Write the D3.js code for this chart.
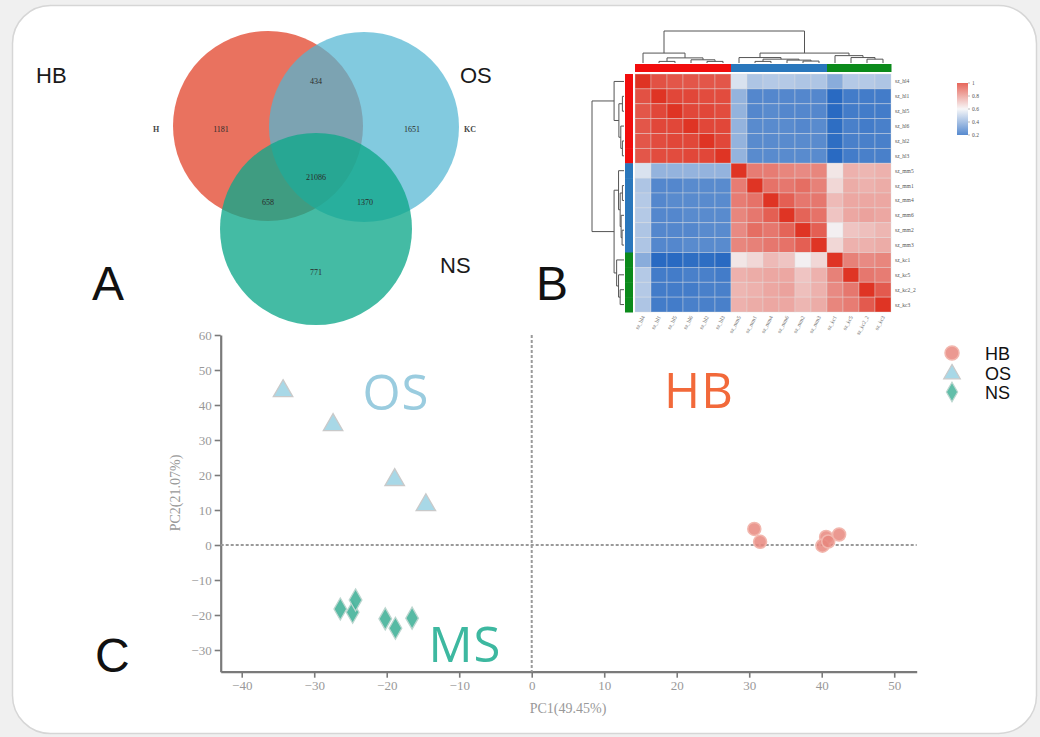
<!DOCTYPE html>
<html><head><meta charset="utf-8">
<script src="https://cdn.jsdelivr.net/npm/d3@7"></script>
<style>body{margin:0;background:#f0f0f0;} svg{display:block}</style>
</head><body><svg id="c" width="1040" height="737"></svg>
<script>
// ---------------- DATA ----------------
const vennSets = ["HB", "OS", "NS"];
const vennSideLabels = ["H", "KC"];
// regions: HB only, OS only, NS only, HB∩OS, HB∩NS, OS∩NS, all
const vennRegionValues = ["1181", "1651", "771", "434", "658", "1370", "21086"];

const heatLabels = ["sz_hl4","sz_hl1","sz_hl5","sz_hl6","sz_hl2","sz_hl3",
  "sz_mm5","sz_mm1","sz_mm4","sz_mm6","sz_mm2","sz_mm3",
  "sz_kc1","sz_kc5","sz_kc2_2","sz_kc3"];
const heatGroups = ["HB","HB","HB","HB","HB","HB","MM","MM","MM","MM","MM","MM","KC","KC","KC","KC"];
const corrMatrix = [
 [1.00,.94,.93,.93,.93,.93, .55,.47,.48,.48,.47,.47, .40,.48,.48,.47],
 [.94,1.00,.96,.96,.95,.95, .42,.30,.30,.30,.30,.30, .22,.27,.27,.27],
 [.93,.96,1.00,.96,.96,.95, .42,.30,.31,.30,.30,.30, .22,.27,.27,.27],
 [.93,.96,.96,1.00,.96,.96, .42,.31,.31,.31,.30,.31, .23,.28,.27,.28],
 [.93,.95,.96,.96,1.00,.96, .42,.31,.31,.31,.31,.31, .23,.28,.28,.28],
 [.93,.95,.95,.96,.96,1.00, .42,.31,.31,.31,.31,.31, .22,.27,.28,.28],
 [.55,.42,.42,.42,.42,.42, 1.00,.85,.85,.83,.82,.83, .63,.74,.73,.74],
 [.47,.30,.30,.31,.31,.31, .85,1.00,.87,.86,.88,.84, .66,.75,.74,.75],
 [.48,.30,.31,.31,.31,.31, .85,.87,1.00,.91,.86,.86, .72,.76,.76,.76],
 [.48,.30,.30,.31,.31,.31, .83,.86,.91,1.00,.90,.87, .70,.76,.77,.76],
 [.47,.30,.30,.30,.31,.31, .82,.88,.86,.90,1.00,.91, .61,.70,.71,.73],
 [.47,.30,.30,.31,.31,.31, .83,.84,.86,.87,.91,1.00, .66,.74,.74,.75],
 [.40,.22,.22,.23,.23,.22, .63,.66,.72,.70,.61,.66, 1.00,.84,.82,.83],
 [.48,.27,.27,.28,.28,.27, .74,.75,.76,.76,.70,.74, .84,1.00,.86,.85],
 [.48,.27,.27,.27,.28,.28, .73,.74,.76,.77,.71,.74, .82,.86,1.00,.92],
 [.47,.27,.27,.28,.28,.28, .74,.75,.76,.76,.73,.75, .83,.85,.92,1.00]
];
// hclust-style merges: negative = leaf (1-based), positive = earlier merge
const dendroMerges = [
 [-2,-3,0.05],[-5,-6,0.05],[-4,2,0.10],[1,3,0.16],[-1,4,0.31],
 [-8,-9,0.05],[-11,-12,0.06],[-10,7,0.09],[6,8,0.12],[-7,9,0.17],
 [-15,-16,0.12],[-14,11,0.17],[-13,12,0.23],[10,13,0.31],[5,14,1.0]
];
const colorbarTicks = [1, 0.8, 0.6, 0.4, 0.2];

const pcaXTicks = [-40,-30,-20,-10,0,10,20,30,40,50];
const pcaYTicks = [-30,-20,-10,0,10,20,30,40,50,60];
const hbPC1 = [30.7, 31.5, 40.6, 40.1, 40.9, 42.4];
const hbPC2 = [4.6, 0.9, 2.3, -0.2, 1.0, 3.0];
const osPC1 = [-34.3, -27.4, -18.9, -14.6];
const osPC2 = [44.3, 34.6, 18.9, 11.7];
const nsPC1 = [-26.4, -24.7, -24.3, -20.2, -18.8, -16.5];
const nsPC2 = [-18.3, -19.2, -15.7, -21.1, -23.8, -20.9];
const pcaLegend = ["HB", "OS", "NS"];
const pcaGroupTags = ["OS", "HB", "MS"];

// ---------------- DRAW ----------------
const svg = d3.select("#c");
// card
svg.append("rect").attr("x",12.5).attr("y",5.5).attr("width",1024).attr("height",728)
  .attr("rx",38).attr("fill","#fff").attr("stroke","#d6d6d6").attr("stroke-width",1.5);

// ---- A: Venn ----
const venn = svg.append("g");
const circles = [
  {cx:268, cy:126, r:95, fill:"#E9725F", op:1},
  {cx:364, cy:127, r:95, fill:"#52B5D3", op:0.72},
  {cx:316, cy:229, r:96, fill:"#10A88B", op:0.78}
];
venn.selectAll("circle").data(circles).join("circle")
  .attr("cx",d=>d.cx).attr("cy",d=>d.cy).attr("r",d=>d.r)
  .attr("fill",d=>d.fill).attr("fill-opacity",d=>d.op);
const regionPos = [[221,132],[412,132],[316,275],[316,84],[268,205],[365,205],[316,180]];
venn.selectAll("text.rv").data(vennRegionValues).join("text").attr("class","rv")
  .attr("x",(d,i)=>regionPos[i][0]).attr("y",(d,i)=>regionPos[i][1])
  .attr("text-anchor","middle").attr("font-family","Liberation Serif").attr("font-size",8)
  .attr("fill","#2a2a2a").text(d=>d);
venn.selectAll("text.sl").data(vennSideLabels).join("text").attr("class","sl")
  .attr("x",(d,i)=>[156,470][i]).attr("y",132).attr("text-anchor","middle")
  .attr("font-family","Liberation Serif").attr("font-size",8).attr("font-weight","bold").attr("fill","#444").text(d=>d);
venn.selectAll("text.sn").data(vennSets).join("text").attr("class","sn")
  .attr("x",(d,i)=>[36,460,440][i]).attr("y",(d,i)=>[83,83,273][i])
  .attr("font-family","Liberation Sans, Arial").attr("font-size",22).attr("fill","#1a1a1a").text(d=>d);

// panel letters
svg.selectAll("text.pl").data(["A","B","C"]).join("text").attr("class","pl")
  .attr("x",(d,i)=>[92,536,95][i]).attr("y",(d,i)=>[300,300,672][i])
  .attr("font-family","Liberation Sans, Arial").attr("font-size",48).attr("fill","#111").text(d=>d);

// ---- B: heatmap ----
const hm = svg.append("g");
const idx = d3.range(heatLabels.length);
const xH = d3.scaleBand().domain(idx).range([635, 891]);
const yH = d3.scaleBand().domain(idx).range([74, 312]);
const hcol = d3.scaleLinear().domain([0.2,0.6,1]).range(["#1E63BF","#F4F4F6","#DF3424"]);
const groupColor = d3.scaleOrdinal().domain(["HB","MM","KC"]).range(["#F20D0D","#2A77BC","#0B8A1B"]);
const cells = [];
corrMatrix.forEach((row,i)=>row.forEach((v,j)=>cells.push({i,j,v})));
hm.selectAll("rect.cell").data(cells).join("rect").attr("class","cell")
  .attr("x",d=>xH(d.j)).attr("y",d=>yH(d.i)).attr("width",xH.bandwidth()).attr("height",yH.bandwidth())
  .attr("fill",d=>hcol(d.v)).attr("stroke","rgba(225,225,225,0.45)").attr("stroke-width",0.8);
// group bars
hm.selectAll("rect.tb").data(idx).join("rect").attr("class","tb")
  .attr("x",d=>xH(d)).attr("y",64).attr("width",xH.bandwidth()+0.5).attr("height",8)
  .attr("fill",d=>groupColor(heatGroups[d]));
hm.selectAll("rect.lb").data(idx).join("rect").attr("class","lb")
  .attr("x",625).attr("y",d=>yH(d)).attr("width",8).attr("height",yH.bandwidth()+0.5)
  .attr("fill",d=>groupColor(heatGroups[d]));
// labels
hm.selectAll("text.rl").data(heatLabels).join("text").attr("class","rl")
  .attr("x",895).attr("y",(d,i)=>yH(i)+yH.bandwidth()/2+2)
  .attr("font-family","Liberation Serif").attr("font-size",5.5).attr("fill","#555").text(d=>d);
hm.selectAll("text.cl").data(heatLabels).join("text").attr("class","cl")
  .attr("transform",(d,i)=>`translate(${xH(i)+xH.bandwidth()/2+2},317) rotate(-62)`)
  .attr("text-anchor","end")
  .attr("font-family","Liberation Serif").attr("font-size",5.5).attr("fill","#666").text(d=>d);
// dendrograms
function drawDendro(g, toXY) {
  const nodes = [];
  const get = k => k < 0 ? {p: xH(-k-1) + xH.bandwidth()/2, pr: yH(-k-1)+yH.bandwidth()/2, h:0} : nodes[k-1];
  const paths = [];
  dendroMerges.forEach(([a,b,h])=>{
    const A=get(a), B=get(b);
    nodes.push({p:(A.p+B.p)/2, pr:(A.pr+B.pr)/2, h});
    paths.push([A,B,h]);
  });
  g.selectAll("path").data(paths).join("path")
    .attr("d",([A,B,h])=>{
      const p1=toXY(A,A.h), p2=toXY(A,h), p3=toXY(B,h), p4=toXY(B,B.h);
      return `M${p1}L${p2}L${p3}L${p4}`;
    })
    .attr("fill","none").attr("stroke","#555").attr("stroke-width",1);
}
const hTop = d3.scaleLinear().domain([0,1]).range([63,31]);
const hLeft = d3.scaleLinear().domain([0,1]).range([624,592]);
drawDendro(hm.append("g"), (n,h)=>[n.p, hTop(h)]);
drawDendro(hm.append("g"), (n,h)=>[hLeft(h), n.pr]);
// colour bar legend
const defs = svg.append("defs");
const grad = defs.append("linearGradient").attr("id","cb").attr("x1",0).attr("y1",0).attr("x2",0).attr("y2",1);
const cbScale = d3.scaleLinear().domain([1,0.2]).range([83,135]);
d3.range(0,1.0001,0.1).forEach(t=>{
  grad.append("stop").attr("offset",t).attr("stop-color",hcol(1-t*0.8));
});
hm.append("rect").attr("x",957).attr("y",83).attr("width",11).attr("height",52)
  .attr("fill","url(#cb)").attr("opacity",0.75);
hm.selectAll("text.cb").data(colorbarTicks).join("text").attr("class","cb")
  .attr("x",972).attr("y",d=>cbScale(d)+2)
  .attr("font-family","Liberation Serif").attr("font-size",5.5).attr("fill","#555").text(d=>d);
hm.selectAll("line.cb").data(colorbarTicks).join("line").attr("class","cb")
  .attr("x1",968).attr("x2",970).attr("y1",d=>cbScale(d)).attr("y2",d=>cbScale(d)).attr("stroke","#777").attr("stroke-width",0.5);

// ---- C: PCA ----
const pc = svg.append("g");
const x = d3.scaleLinear().domain([-42.9, 53.1]).range([220.7, 916.7]);
const y = d3.scaleLinear().domain([-36.2, 60]).range([671.7, 335]);
const axColor = "#7a7a7a";
const gx = pc.append("g").attr("transform","translate(0,671.7)")
  .call(d3.axisBottom(x).tickValues(pcaXTicks).tickSize(6).tickSizeOuter(0).tickPadding(3));
const gy = pc.append("g").attr("transform","translate(220.7,0)")
  .call(d3.axisLeft(y).tickValues(pcaYTicks).tickSize(6).tickSizeOuter(0).tickPadding(3));
[gx,gy].forEach(g=>{
  g.select(".domain").attr("stroke",axColor).attr("stroke-width",2.2);
  g.selectAll(".tick line").attr("stroke",axColor).attr("stroke-width",1.6);
  g.selectAll(".tick text").attr("font-family","Liberation Serif").attr("font-size",13)
    .attr("fill","#999");
});
// dashed zero lines
pc.append("line").attr("x1",x(-42.9)).attr("x2",x(53.1)).attr("y1",y(0)).attr("y2",y(0))
  .attr("stroke","#9a9a9a").attr("stroke-width",2).attr("stroke-dasharray","3,2");
pc.append("line").attr("x1",x(0)).attr("x2",x(0)).attr("y1",y(60)).attr("y2",y(-36.2))
  .attr("stroke","#9a9a9a").attr("stroke-width",2).attr("stroke-dasharray","3,2");
// axis titles
pc.append("text").attr("x",568).attr("y",713).attr("text-anchor","middle")
  .attr("font-family","Liberation Serif").attr("font-size",14).attr("fill","#999").text("PC1(49.45%)");
pc.append("text").attr("transform","translate(180,493) rotate(-90)").attr("text-anchor","middle")
  .attr("font-family","Liberation Serif").attr("font-size",14).attr("fill","#999").text("PC2(21.07%)");
// points
const triSym = d3.symbol().type(d3.symbolTriangle).size(165);
const diaSym = d3.symbol().type(d3.symbolDiamond).size(140);
const osStyle = {fill:"#A8D8E7", stroke:"#c9c9c9"};
const nsStyle = {fill:"#45B39A", stroke:"#bcd6cf"};
const hbStyle = {fill:"#E8877E", stroke:"#f2b7ae"};
pc.selectAll("path.os").data(osPC1).join("path").attr("class","os")
  .attr("d",triSym).attr("transform",(d,i)=>`translate(${x(d)},${y(osPC2[i])+1})`)
  .attr("fill",osStyle.fill).attr("stroke",osStyle.stroke).attr("stroke-width",1.3);
pc.selectAll("path.ns").data(nsPC1).join("path").attr("class","ns")
  .attr("d",diaSym).attr("transform",(d,i)=>`translate(${x(d)},${y(nsPC2[i])})`)
  .attr("fill",nsStyle.fill).attr("fill-opacity",0.9).attr("stroke",nsStyle.stroke).attr("stroke-width",1.3);
pc.selectAll("circle.hb").data(hbPC1).join("circle").attr("class","hb")
  .attr("cx",d=>x(d)).attr("cy",(d,i)=>y(hbPC2[i])).attr("r",6.5)
  .attr("fill",hbStyle.fill).attr("fill-opacity",0.85).attr("stroke",hbStyle.stroke).attr("stroke-width",1.5);
// group tags
const tagPos = [[396,410,"#9ACCDF"],[699,408,"#F2693A"],[465,662,"#3DB8A0"]];
pc.selectAll("text.tag").data(pcaGroupTags).join("text").attr("class","tag")
  .attr("x",(d,i)=>tagPos[i][0]).attr("y",(d,i)=>tagPos[i][1]).attr("text-anchor","middle")
  .attr("font-family","Open Sans, Lato").attr("font-weight",400).attr("font-size",49)
  .attr("letter-spacing",1)
  .attr("fill",(d,i)=>tagPos[i][2]).text(d=>d);
// legend
const lg = pc.append("g");
const lgY = [353, 373, 392];
lg.append("circle").attr("cx",952).attr("cy",lgY[0]).attr("r",7)
  .attr("fill",hbStyle.fill).attr("fill-opacity",0.85).attr("stroke",hbStyle.stroke).attr("stroke-width",1.5);
lg.append("path").attr("d",d3.symbol().type(d3.symbolTriangle).size(120)).attr("transform",`translate(952,${lgY[1]+1})`)
  .attr("fill",osStyle.fill).attr("stroke",osStyle.stroke).attr("stroke-width",1.2);
lg.append("path").attr("d",d3.symbol().type(d3.symbolDiamond).size(110)).attr("transform",`translate(952,${lgY[2]})`)
  .attr("fill",nsStyle.fill).attr("fill-opacity",0.85).attr("stroke",nsStyle.stroke).attr("stroke-width",1.2);
lg.selectAll("text").data(pcaLegend).join("text")
  .attr("x",985).attr("y",(d,i)=>lgY[i]+6.5)
  .attr("font-family","Liberation Sans, Arial").attr("font-size",18).attr("fill","#111").text(d=>d);
</script></body></html>
